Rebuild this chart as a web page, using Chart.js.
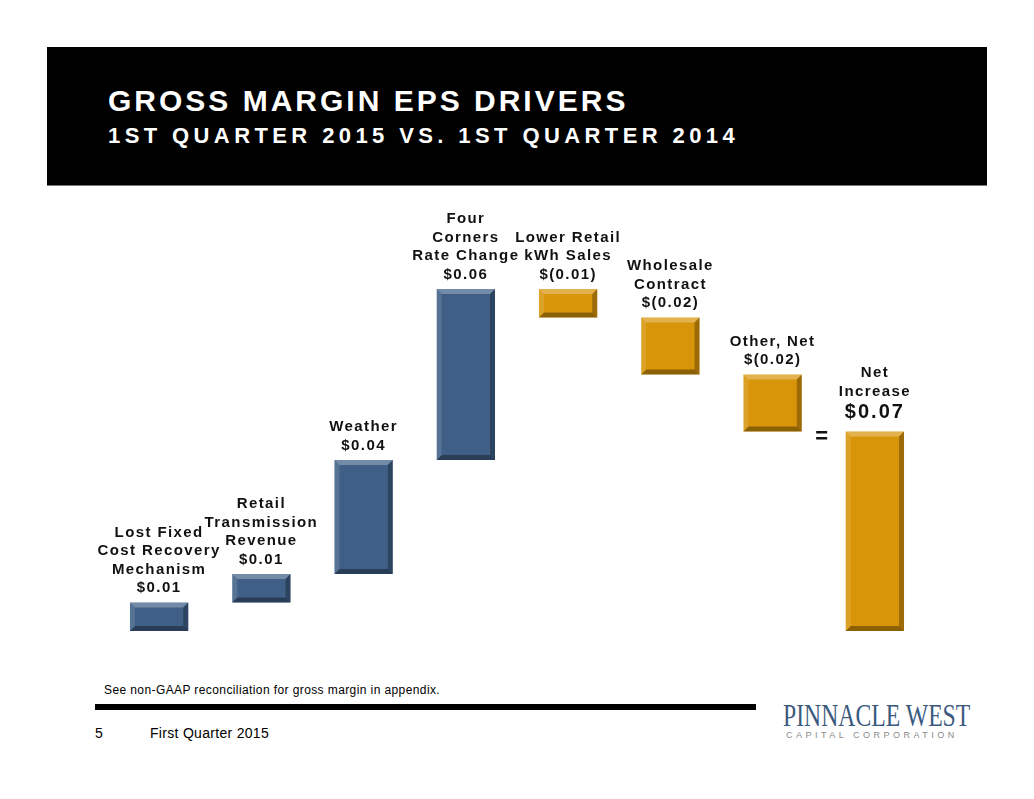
<!DOCTYPE html>
<html lang="en">
<head>
  <meta charset="utf-8">
  <title>Gross Margin EPS Drivers</title>
  <script src="https://cdn.jsdelivr.net/npm/chart.js@4"></script>
  <style>
body {
  margin: 0;
  width: 1034px;
  height: 799px;
  background: #fff;
  position: relative;
  overflow: hidden;
  font-family: "Liberation Sans", Arial, sans-serif;
}

#title-box {
  position: absolute;
  left: 47px;
  top: 47px;
  width: 940px;
  height: 138px;
  background: #000;
  border-bottom: 1px solid #777;
}

.title {
  position: absolute;
  left: 108px;
  color: #fff;
  font-weight: bold;
  white-space: nowrap;
}
#title1 { top: 86px; font-size: 30px; line-height: 30px; letter-spacing: 3px; }
#title2 { top: 125px; font-size: 22px; line-height: 22px; letter-spacing: 4.4px; }

#chart-wrap {
  position: absolute;
  left: 0;
  top: 175px;
  width: 1034px;
  height: 456px;
}

#note {
  position: absolute;
  left: 104px;
  top: 683px;
  font-size: 12px;
  letter-spacing: 0.4px;
  color: #000;
}
#rule {
  position: absolute;
  left: 95px;
  top: 704px;
  width: 661px;
  height: 6px;
  background: #000;
}
#page {
  position: absolute;
  left: 95px;
  top: 725px;
  font-size: 14px;
}
#quarter {
  position: absolute;
  left: 150px;
  top: 725px;
  font-size: 14px;
  letter-spacing: 0.3px;
}
#logo {
  position: absolute;
  left: 783px;
  top: 700px;
  font-family: "Liberation Serif", "DejaVu Serif", serif;
  font-size: 31px;
  line-height: 31px;
  color: #3b5a7f;
  white-space: nowrap;
  transform-origin: 0 0;
  transform: scaleX(0.765);
}
#logo-sub {
  position: absolute;
  left: 786px;
  top: 730px;
  font-size: 9px;
  letter-spacing: 3.5px;
  color: #8a8a8a;
  white-space: nowrap;
}
  </style>
</head>
<body>
  <div id="title-box"></div>
  <div class="title" id="title1">GROSS MARGIN EPS DRIVERS</div>
  <div class="title" id="title2">1ST QUARTER 2015 VS. 1ST QUARTER 2014</div>

  <div id="chart-wrap">
    <canvas id="eps-chart"></canvas>
  </div>

  <div id="note">See non-GAAP reconciliation for gross margin in appendix.</div>
  <div id="rule"></div>
  <div id="page">5</div>
  <div id="quarter">First Quarter 2015</div>
  <div id="logo">PINNACLE WEST</div>
  <div id="logo-sub">CAPITAL CORPORATION</div>

  <script type="text/javascript">
// Category names (one entry per line of the label above each bar)
const categories = [
  ['Lost Fixed', 'Cost Recovery', 'Mechanism'],
  ['Retail', 'Transmission', 'Revenue'],
  ['Weather'],
  ['Four', 'Corners', 'Rate Change'],
  ['Lower Retail', 'kWh Sales'],
  ['Wholesale', 'Contract'],
  ['Other, Net'],
  ['Net', 'Increase']
];

// EPS change of each driver, $ per share
const drivers = [0.01, 0.01, 0.04, 0.06, -0.01, -0.02, -0.02];
const netIncrease = 0.07;

// text printed under each category name
const valueLabels = ['$0.01', '$0.01', '$0.04', '$0.06', '$(0.01)', '$(0.02)', '$(0.02)', '$0.07'];

const BLUE = '#3f5f86';
const GOLD = '#d8950a';

// waterfall ranges: each driver floats from the running total
let running = 0;
const ranges = [];
const colors = [];
drivers.forEach(d => {
  const next = Math.round((running + d) * 100) / 100;
  ranges.push([Math.min(running, next), Math.max(running, next)]);
  colors.push(d >= 0 ? BLUE : GOLD);
  running = next;
});
ranges.push([0, netIncrease]);
colors.push(GOLD);

// bevel on each bar, to look like the slide's 3D buttons
const bevelPlugin = {
  id: 'bevel',
  afterDatasetsDraw(chart) {
    const ctx = chart.ctx;
    const b = 5;
    chart.getDatasetMeta(0).data.forEach((bar, i) => {
      const l = bar.x - bar.width / 2, r = bar.x + bar.width / 2;
      const t = Math.min(bar.y, bar.base), btm = Math.max(bar.y, bar.base);
      ctx.save();
      // top highlight
      ctx.fillStyle = 'rgba(255,255,255,0.28)';
      ctx.beginPath();
      ctx.moveTo(l, t); ctx.lineTo(r, t); ctx.lineTo(r - b, t + b); ctx.lineTo(l + b, t + b);
      ctx.fill();
      // left light
      ctx.fillStyle = 'rgba(255,255,255,0.12)';
      ctx.beginPath();
      ctx.moveTo(l, t); ctx.lineTo(l + b, t + b); ctx.lineTo(l + b, btm - b); ctx.lineTo(l, btm);
      ctx.fill();
      // right shade
      ctx.fillStyle = 'rgba(0,0,0,0.28)';
      ctx.beginPath();
      ctx.moveTo(r, t); ctx.lineTo(r, btm); ctx.lineTo(r - b, btm - b); ctx.lineTo(r - b, t + b);
      ctx.fill();
      // bottom shade
      ctx.fillStyle = 'rgba(0,0,0,0.35)';
      ctx.beginPath();
      ctx.moveTo(l, btm); ctx.lineTo(r, btm); ctx.lineTo(r - b, btm - b); ctx.lineTo(l + b, btm - b);
      ctx.fill();
      ctx.restore();
    });
  }
};

// stacked labels above the bars, plus the "=" before the total
const labelPlugin = {
  id: 'barLabels',
  afterDatasetsDraw(chart) {
    const ctx = chart.ctx;
    const bars = chart.getDatasetMeta(0).data;
    const lineH = 18.5;
    ctx.save();
    ctx.fillStyle = '#111';
    ctx.textAlign = 'center';
    ctx.textBaseline = 'middle';
    ctx.letterSpacing = '1.4px';
    bars.forEach((bar, i) => {
      const top = Math.min(bar.y, bar.base);
      const isTotal = i === bars.length - 1;
      let y = top - (isTotal ? 19 : 14.5);
      ctx.font = 'bold ' + (isTotal ? 20 : 15) + 'px "Liberation Sans", Arial, sans-serif';
      if (isTotal) ctx.letterSpacing = '2px';
      ctx.fillText(valueLabels[i], bar.x, y);
      ctx.font = 'bold 15px "Liberation Sans", Arial, sans-serif';
      ctx.letterSpacing = '1.4px';
      y -= isTotal ? 21 : lineH;
      const lines = categories[i];
      for (let k = lines.length - 1; k >= 0; k--) {
        ctx.fillText(lines[k], bar.x, y);
        y -= lineH;
      }
    });
    // equals sign between last driver and the net bar
    const last = bars[bars.length - 1], prev = bars[bars.length - 2];
    ctx.font = 'bold 22px "Liberation Sans", Arial, sans-serif';
    ctx.letterSpacing = '0px';
    ctx.fillText('=', (last.x - last.width / 2 + prev.x + prev.width / 2) / 2 - 2, Math.min(last.y, last.base) + 5);
    ctx.restore();
  }
};

const epsChart = new Chart(document.getElementById('eps-chart'), {
  type: 'bar',
  data: {
    labels: categories,
    datasets: [{
      data: ranges,
      backgroundColor: colors,
      borderWidth: 0,
      barPercentage: 0.57,
      categoryPercentage: 1.0
    }]
  },
  options: {
    responsive: true,
    maintainAspectRatio: false,
    animation: false,
    layout: { padding: { left: 108, right: 108, top: 0, bottom: 0 } },
    scales: {
      x: { display: false },
      y: { display: false, min: 0, max: 0.16 }
    },
    plugins: {
      legend: { display: false },
      tooltip: { enabled: false }
    }
  },
  plugins: [bevelPlugin, labelPlugin]
});
</script>
</body>
</html>
